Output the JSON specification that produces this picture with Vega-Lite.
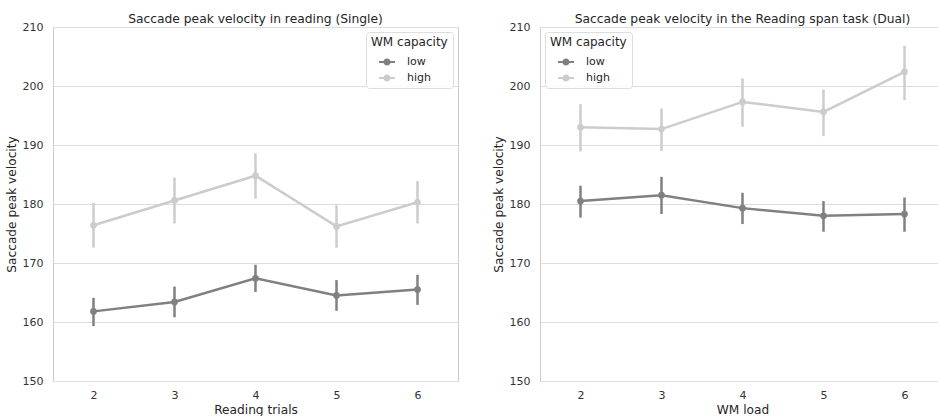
{
  "$schema": "https://vega.github.io/schema/vega-lite/v6.json",
  "padding": {"left": 4, "top": 12, "right": 0, "bottom": 0},
  "background": "white",
  "datasets": {
    "single": [
      {"trials": 2, "cap": "low", "v": 161.8, "lo": 159.3, "hi": 164.1},
      {"trials": 3, "cap": "low", "v": 163.4, "lo": 160.8, "hi": 166.0},
      {"trials": 4, "cap": "low", "v": 167.4, "lo": 165.1, "hi": 169.7},
      {"trials": 5, "cap": "low", "v": 164.5, "lo": 161.9, "hi": 167.1},
      {"trials": 6, "cap": "low", "v": 165.5, "lo": 162.9, "hi": 168.0},
      {"trials": 2, "cap": "high", "v": 176.4, "lo": 172.6, "hi": 180.2},
      {"trials": 3, "cap": "high", "v": 180.6, "lo": 176.7, "hi": 184.5},
      {"trials": 4, "cap": "high", "v": 184.8, "lo": 180.9, "hi": 188.6},
      {"trials": 5, "cap": "high", "v": 176.2, "lo": 172.6, "hi": 179.8},
      {"trials": 6, "cap": "high", "v": 180.3, "lo": 176.7, "hi": 183.9}
    ],
    "dual": [
      {"load": 2, "cap": "low", "v": 180.5, "lo": 177.7, "hi": 183.1},
      {"load": 3, "cap": "low", "v": 181.5, "lo": 178.3, "hi": 184.6},
      {"load": 4, "cap": "low", "v": 179.3, "lo": 176.6, "hi": 181.9},
      {"load": 5, "cap": "low", "v": 178.0, "lo": 175.3, "hi": 180.5},
      {"load": 6, "cap": "low", "v": 178.3, "lo": 175.3, "hi": 181.1},
      {"load": 2, "cap": "high", "v": 193.0, "lo": 188.9, "hi": 196.9},
      {"load": 3, "cap": "high", "v": 192.7, "lo": 189.0, "hi": 196.2},
      {"load": 4, "cap": "high", "v": 197.3, "lo": 193.1, "hi": 201.3},
      {"load": 5, "cap": "high", "v": 195.6, "lo": 191.5, "hi": 199.4},
      {"load": 6, "cap": "high", "v": 202.4, "lo": 197.6, "hi": 206.8}
    ]
  },
  "config": {
    "font": "DejaVu Sans",
    "view": {"stroke": "#cccccc", "strokeWidth": 1},
    "title": {"fontSize": 12.3, "fontWeight": "normal", "color": "#262626", "offset": -4},
    "axis": {
      "domain": false, "ticks": false, "labelFontSize": 11, "titleFontSize": 12.2,
      "labelColor": "#333333", "titleColor": "#262626", "titleFontWeight": "normal",
      "gridColor": "#dddddd", "gridWidth": 1, "labelPadding": 8
    },
    "axisX": {"grid": false, "labelAngle": 0, "titlePadding": 3},
    "axisY": {"titlePadding": 4, "labelPadding": 10},
    "legend": {
      "titleFontSize": 12, "titleFontWeight": "normal", "titleColor": "#262626",
      "labelFontSize": 11, "labelColor": "#262626", "labelOffset": 12, "symbolOffset": 8,
      "fillColor": "rgba(255,255,255,0.85)", "strokeColor": "#dddddd", "cornerRadius": 3,
      "padding": 5, "symbolType": "M-1,-0.12H1V0.12H-1Z M-0.45,0A0.45,0.45 0 1,1 0.45,0A0.45,0.45 0 1,1 -0.45,0Z",
      "symbolSize": 256, "symbolStrokeWidth": 0, "rowPadding": 3, "offset": 5
    },
    "concat": {"spacing": 32}
  },
  "resolve": {"scale": {"color": "independent"}, "legend": {"color": "independent"}},
  "hconcat": [
    {
      "title": "Saccade peak velocity in reading (Single)",
      "width": 405, "height": 354,
      "data": {"name": "single"},
      "encoding": {
        "x": {"field": "trials", "type": "ordinal", "title": "Reading trials", "scale": {"type": "point", "padding": 0.5}},
        "color": {"field": "cap", "type": "nominal", "sort": ["low", "high"],
          "scale": {"domain": ["low", "high"], "range": ["#808080", "#cccccc"]},
          "legend": {"title": "WM capacity", "orient": "top-right"}}
      },
      "layer": [
        {"mark": {"type": "rule", "strokeWidth": 2.5},
         "encoding": {"y": {"field": "lo", "type": "quantitative", "scale": {"domain": [150, 210], "nice": false, "zero": false}}, "y2": {"field": "hi"}}},
        {"mark": {"type": "line", "strokeWidth": 2.5},
         "encoding": {"y": {"field": "v", "type": "quantitative", "title": "Saccade peak velocity",
            "scale": {"domain": [150, 210], "nice": false, "zero": false}, "axis": {"values": [150, 160, 170, 180, 190, 200, 210]}}}},
        {"mark": {"type": "point", "filled": true, "size": 45, "opacity": 1},
         "encoding": {"y": {"field": "v", "type": "quantitative", "scale": {"domain": [150, 210], "nice": false, "zero": false}}}}
      ]
    },
    {
      "title": "Saccade peak velocity in the Reading span task (Dual)",
      "width": 405, "height": 354,
      "data": {"name": "dual"},
      "encoding": {
        "x": {"field": "load", "type": "ordinal", "title": "WM load", "scale": {"type": "point", "padding": 0.5}},
        "color": {"field": "cap", "type": "nominal", "sort": ["low", "high"],
          "scale": {"domain": ["low", "high"], "range": ["#808080", "#cccccc"]},
          "legend": {"title": "WM capacity", "orient": "top-left"}}
      },
      "layer": [
        {"mark": {"type": "rule", "strokeWidth": 2.5},
         "encoding": {"y": {"field": "lo", "type": "quantitative", "scale": {"domain": [150, 210], "nice": false, "zero": false}}, "y2": {"field": "hi"}}},
        {"mark": {"type": "line", "strokeWidth": 2.5},
         "encoding": {"y": {"field": "v", "type": "quantitative", "title": "Saccade peak velocity",
            "scale": {"domain": [150, 210], "nice": false, "zero": false}, "axis": {"values": [150, 160, 170, 180, 190, 200, 210]}}}},
        {"mark": {"type": "point", "filled": true, "size": 45, "opacity": 1},
         "encoding": {"y": {"field": "v", "type": "quantitative", "scale": {"domain": [150, 210], "nice": false, "zero": false}}}}
      ]
    }
  ]
}
